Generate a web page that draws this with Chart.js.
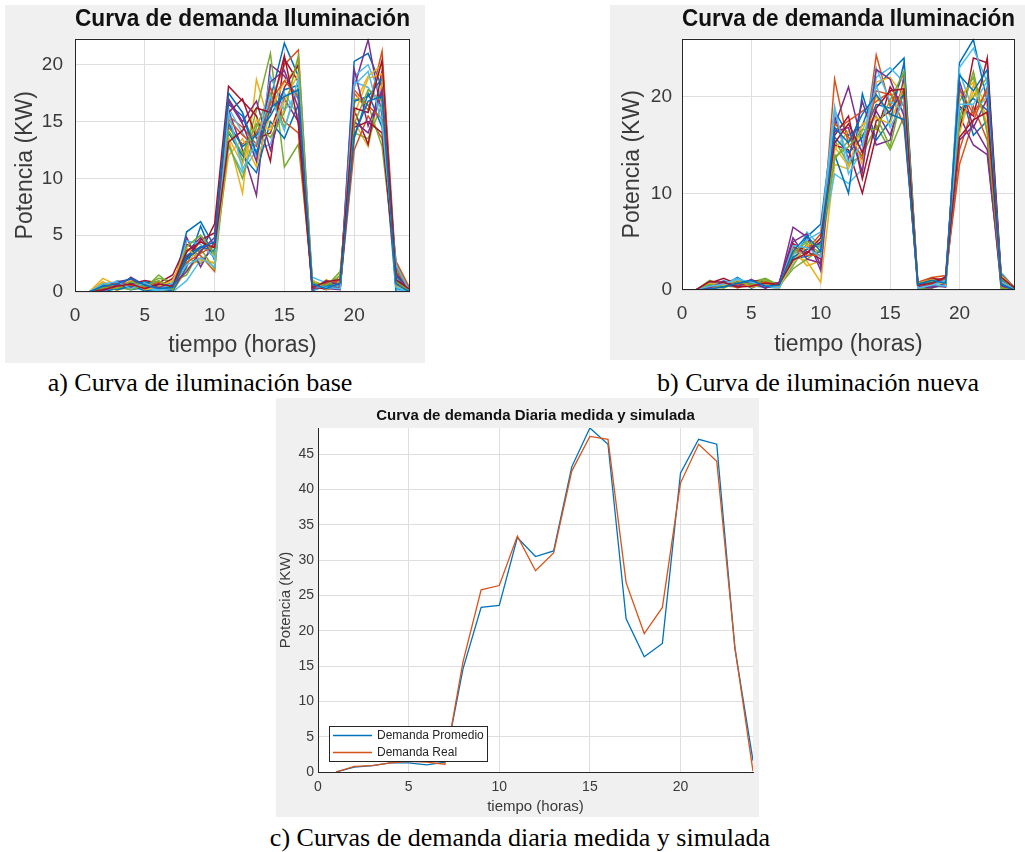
<!DOCTYPE html>
<html>
<head>
<meta charset="utf-8">
<script src="https://cdn.jsdelivr.net/npm/chart.js@4.4.0/dist/chart.umd.min.js"></script>
<style>
  body { margin: 0; background: #fff; width: 1025px; height: 852px; position: relative; overflow: hidden; }
  .panel { position: absolute; background: #f0f0f0; }
  .cap { position: absolute; font-family: 'Liberation Serif', 'Times New Roman', serif; font-size: 26px; line-height: 1; color: #000; white-space: nowrap; transform: translateX(-50%); }
</style>
</head>
<body>
<div class="panel" style="left:5px;top:5px;width:420px;height:358px"><canvas id="chartBase"></canvas></div>
<div class="panel" style="left:610px;top:5px;width:415px;height:355px"><canvas id="chartNueva"></canvas></div>
<div class="panel" style="left:276px;top:398px;width:483px;height:419px"><canvas id="chartDiaria"></canvas></div>
<div class="cap" style="left:200px;top:370px">a) Curva de iluminación base</div>
<div class="cap" style="left:818px;top:370px">b) Curva de iluminación nueva</div>
<div class="cap" style="left:520px;top:825px">c) Curvas de demanda diaria medida y simulada</div>

<script>
// hours of the day
const hours = [1,2,3,4,5,6,7,8,9,10,11,12,13,14,15,16,17,18,19,20,21,22,23,24];

// daily lighting curves, base installation (kW)
const baseCurves = [
  [0,0.3,0.5,0.2,0.4,0.3,0.2,5.3,6.2,4.0,16.5,15.5,12.0,17.0,21.9,19.0,0.5,0.4,0.6,20.3,21.0,18.0,0.3,0],
  [0,0.8,0.4,0.9,0.7,0.5,0.8,2.8,4.5,3.5,14.5,13.0,14.0,16.5,20.0,21.3,0.8,0.6,0.9,17.5,16.0,21.2,1.8,0.1],
  [0,1.2,0.6,0.3,0.8,0.2,0.0,2.0,3.0,2.5,13.5,8.7,18.7,14.5,16.0,20.5,0.2,1.1,0.5,15.0,12.8,18.5,0.5,0],
  [0,0.2,0.3,1.3,0.6,0.4,0.3,3.5,4.8,3.0,16.0,12.5,8.5,20.0,19.0,17.0,0.4,0.3,0.2,18.0,22.2,15.5,1.0,0],
  [0,0.5,0.2,0.4,0.3,1.5,0.5,3.0,2.5,4.2,15.0,11.5,16.0,21.0,11.0,13.0,1.0,0.5,1.8,14.0,13.5,16.5,2.5,0.2],
  [0,0.1,1.0,0.5,0.2,0.1,0.0,1.0,2.8,3.8,12.8,10.5,12.5,13.0,17.5,15.5,1.3,0.8,0.4,19.0,20.0,17.0,0.2,0],
  [0,0.6,0.8,0.7,1.0,0.8,1.5,4.2,3.5,6.0,18.1,16.8,15.5,11.5,20.5,18.5,0.6,0.2,0.7,16.0,13.0,19.5,1.5,0.1],
  [0,0.0,0.3,0.6,0.1,0.3,0.1,2.2,5.8,2.8,14.0,12.0,10.5,15.0,13.5,16.5,0.1,0.6,0.3,13.5,17.5,14.5,0.0,0],
  [0,0.4,0.7,0.3,0.9,0.6,0.4,3.8,3.2,1.8,15.5,14.5,13.0,18.0,15.0,14.0,0.3,0.9,0.5,12.5,15.5,13.5,2.7,0.3],
  [0,0.9,0.1,0.8,0.4,0.9,0.6,2.5,4.0,3.2,12.0,13.5,11.0,16.0,18.5,19.8,0.7,0.4,1.2,16.5,19.0,20.0,1.2,0],
  [0,0.3,0.9,1.1,0.5,0.7,0.2,4.8,2.2,4.5,17.0,15.0,16.8,12.5,17.0,15.0,0.5,0.7,0.8,15.0,14.0,17.5,0.8,0.1],
  [0,0.7,0.5,0.2,0.6,1.2,0.9,1.5,3.8,2.0,13.0,10.0,14.5,17.5,14.5,18.0,0.9,0.3,1.5,17.0,16.5,12.8,2.0,0],
  [0,0.2,0.4,0.9,0.3,0.2,0.3,4.5,4.2,3.0,16.2,14.0,12.0,19.0,16.0,17.5,0.2,0.5,0.6,18.5,18.0,16.0,0.4,0],
  [0,0.5,0.6,0.4,0.8,0.5,1.2,3.0,4.6,5.2,15.8,17.0,13.5,14.0,18.0,20.0,0.4,0.3,0.4,14.5,15.0,14.0,1.0,0.2],
  [0,0.6,0.2,0.5,0.9,0.6,0.7,3.2,4.0,3.6,14.8,12.8,13.8,15.5,17.8,18.2,0.6,0.5,0.7,16.8,17.2,18.8,1.4,0.1],
  [0,0.3,0.8,0.6,0.4,0.9,0.3,2.6,3.4,4.1,15.2,13.8,12.8,16.8,18.6,17.2,0.3,0.8,1.0,17.8,16.4,15.2,2.2,0],
  [0,0.9,0.4,1.0,0.2,0.5,1.0,3.9,2.8,2.6,13.6,11.2,15.2,14.2,16.8,19.2,1.1,0.2,0.9,15.6,18.8,19.2,0.6,0.2],
  [0,0.1,0.6,0.8,0.7,0.4,0.6,1.8,3.6,4.8,16.8,14.8,11.5,18.5,19.5,16.2,0.2,1.0,0.6,19.6,14.6,17.8,1.7,0],
  [0,0.4,0.3,0.9,0.5,1.0,0.2,4.0,5.0,3.3,14.2,12.2,14.8,13.6,15.8,20.8,0.8,0.6,1.4,14.8,17.8,16.8,0.9,0.1],
  [0,0.7,0.9,0.3,0.8,0.2,0.8,2.4,3.0,2.2,15.8,10.8,13.2,17.2,14.2,18.8,0.5,0.4,0.3,18.2,19.4,14.8,2.4,0],
  [0,0.2,0.5,0.7,0.3,0.7,0.5,3.6,4.4,3.9,13.2,14.2,16.2,15.8,20.8,14.8,0.4,0.9,1.1,16.2,15.8,20.4,1.1,0.2],
  [0,0.5,0.7,1.2,0.6,0.3,0.4,2.9,3.9,4.4,17.5,15.8,12.2,16.2,17.2,17.8,0.7,0.3,0.8,13.8,16.8,17.2,0.7,0]
];

// daily lighting curves, new installation (kW)
const nuevaCurves = [
  [0,0.3,0.5,1.3,0.4,0.3,0.2,3.0,5.5,6.8,18.5,16.0,17.0,21.0,22.5,24.0,0.5,0.3,0.4,23.5,25.9,19.5,0.5,0],
  [0,0.8,0.6,0.5,0.9,0.6,0.3,4.0,4.5,3.5,21.8,15.0,13.5,24.3,19.0,22.5,0.8,1.3,1.5,13.0,17.5,21.0,1.5,0.1],
  [0,0.2,0.9,0.7,0.3,1.0,0.4,3.5,3.0,0.8,13.0,12.5,16.5,20.0,18.0,19.5,0.3,0.6,0.8,17.0,20.5,18.0,0.3,0],
  [0,0.6,0.3,0.9,0.6,0.4,0.6,6.5,5.5,2.0,17.0,21.0,15.0,18.5,16.0,20.5,0.4,0.5,0.3,18.0,15.0,14.0,1.0,0],
  [0,1.0,0.4,0.3,0.8,1.2,0.5,2.5,4.8,3.8,15.5,13.0,14.0,17.0,14.5,18.0,0.1,0.2,0.6,19.5,22.0,16.5,0.0,0],
  [0,0.4,0.7,1.2,0.5,0.5,0.2,2.8,6.0,4.5,12.0,11.0,12.5,22.0,23.0,21.5,0.6,0.8,1.0,22.5,18.5,20.0,1.8,0.2],
  [0,0.7,1.2,0.6,1.0,0.8,0.7,4.5,3.8,5.0,15.0,14.5,10.0,16.0,21.0,19.0,0.5,1.0,1.2,16.5,24.0,23.5,1.2,0.1],
  [0,0.1,0.4,1.1,0.2,0.8,0.5,3.2,3.5,4.0,14.0,10.0,20.3,15.5,17.5,23.5,0.2,0.4,0.5,21.0,16.0,17.5,0.6,0],
  [0,0.5,0.8,0.2,0.7,0.3,0.6,3.8,4.2,5.8,16.5,17.5,18.5,19.5,20.5,17.0,0.7,0.9,1.3,14.5,19.0,15.5,1.0,0.1],
  [0,0.3,0.2,0.8,0.4,0.6,0.1,4.2,2.5,3.0,14.5,16.5,13.0,21.5,22.0,20.0,0.4,0.5,0.9,20.0,21.5,19.0,0.8,0],
  [0,0.8,0.5,0.4,1.1,0.2,0.8,5.0,5.8,2.5,18.0,13.5,19.5,15.0,15.5,22.0,0.3,0.2,0.7,15.5,17.0,14.5,0.4,0],
  [0,0.6,0.6,1.0,0.5,0.9,0.4,2.2,3.2,4.2,13.5,15.5,16.0,18.0,14.8,21.0,0.0,0.7,1.1,17.5,20.0,22.0,0.2,0],
  [0,0.2,1.0,0.5,0.8,0.4,0.3,3.6,5.2,6.0,19.0,12.0,14.5,23.0,19.5,18.5,0.8,0.6,0.4,23.0,25.0,21.5,1.4,0.1],
  [0,0.4,0.3,0.7,0.6,0.7,0.5,4.8,4.0,3.2,16.0,18.0,11.5,17.5,18.5,20.8,0.5,1.2,1.0,19.0,18.0,24.0,1.6,0.2],
  [0,0.5,0.4,0.9,0.7,0.5,0.4,3.4,4.2,4.8,15.8,14.2,15.8,19.2,18.8,20.2,0.5,0.8,0.9,18.6,19.8,18.6,1.1,0.1],
  [0,0.3,0.7,0.6,0.5,0.8,0.6,4.4,3.6,3.6,17.2,15.8,13.8,20.6,20.2,19.2,0.3,0.6,1.2,20.8,18.2,20.6,0.7,0],
  [0,0.7,0.5,1.0,0.3,0.6,0.3,2.9,4.6,5.2,14.8,12.8,17.2,17.8,17.2,21.2,0.6,1.1,0.6,16.2,21.2,17.2,1.5,0.2],
  [0,0.2,0.9,0.4,0.9,0.2,0.7,5.4,3.2,2.8,16.4,16.8,12.2,22.8,21.8,18.0,0.4,0.4,1.4,21.6,16.8,19.8,0.5,0],
  [0,0.6,0.2,0.8,0.6,1.1,0.5,3.8,5.0,4.4,13.8,14.8,16.6,16.6,19.6,22.6,0.7,0.9,0.8,17.8,22.6,16.2,1.2,0.1],
  [0,0.4,0.6,1.1,0.8,0.5,0.2,4.6,4.4,3.4,18.6,13.2,15.2,21.2,16.8,19.6,0.2,0.5,1.0,19.2,19.2,21.6,0.9,0],
  [0,0.9,0.8,0.3,0.4,0.7,0.6,3.1,3.8,5.4,15.2,17.2,14.2,18.8,20.6,20.8,0.5,0.7,1.3,15.8,17.6,18.4,1.3,0.2],
  [0,0.1,0.3,0.7,1.0,0.4,0.5,4.0,5.6,4.0,16.8,15.2,18.2,20.2,18.2,17.6,0.6,1.0,0.7,22.2,20.6,22.8,0.6,0]
];

// measured vs simulated daily demand (kW)
const demandaPromedio = [0,0.7,0.9,1.3,1.3,1.0,1.4,14.6,23.3,23.6,33.2,30.5,31.3,43.2,48.7,46.4,21.7,16.3,18.2,42.3,47.1,46.4,17.5,1.6];
const demandaReal = [0,0.8,0.9,1.3,1.5,1.4,1.1,15.6,25.8,26.4,33.4,28.5,31.0,42.6,47.5,47.1,26.8,19.6,23.3,40.9,46.4,44.0,17.7,0.1];

const matlabColors = ['#0072BD', '#D95319', '#EDB120', '#7E2F8E', '#77AC30', '#4DBEEE', '#A2142F'];

Chart.defaults.font.family = "'Liberation Sans', Arial, sans-serif";
Chart.defaults.color = '#3a3a3a';
Chart.defaults.animation = false;

const toPoints = vals => hours.map((h, i) => ({ x: h, y: vals[i] }));

// white axes background and optional dark frame around the plot
const plotBox = {
  id: 'plotBox',
  beforeDraw(chart) {
    const { ctx, chartArea: a } = chart;
    ctx.save();
    ctx.fillStyle = '#fff';
    ctx.fillRect(a.left, a.top, a.width, a.height);
    ctx.restore();
  },
  afterDraw(chart, args, opts) {
    if (!opts.frame) return;
    const { ctx, chartArea: a } = chart;
    ctx.save();
    ctx.strokeStyle = '#262626';
    ctx.lineWidth = 1;
    ctx.strokeRect(Math.round(a.left) + 0.5, Math.round(a.top) + 0.5, Math.round(a.width) - 1, Math.round(a.height) - 1);
    ctx.restore();
  }
};

// legend box drawn inside the lower-left corner of the plot
const innerLegend = {
  id: 'innerLegend',
  afterDatasetsDraw(chart, args, opts) {
    if (!opts.show) return;
    const { ctx, chartArea: a } = chart;
    const w = 158, h = 35;
    const x = Math.round(a.left) + 11, y = Math.round(a.bottom) - 11 - h;
    ctx.save();
    ctx.fillStyle = '#fff';
    ctx.fillRect(x, y, w, h);
    ctx.strokeStyle = '#262626';
    ctx.lineWidth = 1;
    ctx.strokeRect(x + 0.5, y + 0.5, w, h);
    ctx.font = "12px 'Liberation Sans', Arial, sans-serif";
    ctx.textBaseline = 'middle';
    chart.data.datasets.forEach((ds, i) => {
      const ry = y + 9.5 + i * 17;
      ctx.strokeStyle = ds.borderColor;
      ctx.lineWidth = 1.3;
      ctx.beginPath();
      ctx.moveTo(x + 4, ry);
      ctx.lineTo(x + 43, ry);
      ctx.stroke();
      ctx.fillStyle = '#262626';
      ctx.fillText(ds.label, x + 48, ry);
    });
    ctx.restore();
  }
};

function makeChart(id, datasets, cfg) {
  const keepTicks = step => scale => {
    scale.ticks = scale.ticks.filter(t => Math.abs(t.value / step - Math.round(t.value / step)) < 1e-9);
  };
  return new Chart(document.getElementById(id), {
    type: 'line',
    data: { datasets },
    plugins: [plotBox, innerLegend],
    options: {
      responsive: true,
      maintainAspectRatio: false,
      layout: { padding: { left: 0, right: cfg.padRight, top: 0, bottom: 0 } },
      elements: { point: { radius: 0 }, line: { tension: 0 } },
      plugins: {
        legend: { display: false },
        tooltip: { enabled: false },
        title: {
          display: true,
          text: cfg.title,
          fullSize: false,
          color: '#111',
          font: { size: cfg.titleSize, weight: 'bold' },
          padding: cfg.titlePad
        },
        plotBox: { frame: cfg.frame },
        innerLegend: { show: cfg.legend }
      },
      scales: {
        x: {
          type: 'linear',
          min: 0,
          max: 24,
          ticks: { stepSize: 5, autoSkip: false, maxRotation: 0, padding: cfg.xTickPad, font: { size: cfg.tickSize } },
          afterBuildTicks: keepTicks(5),
          afterFit: s => { s.height = cfg.xHeight; },
          grid: { color: '#dedede', drawTicks: false },
          border: { display: !cfg.frame, color: '#262626' },
          title: { display: true, text: 'tiempo (horas)', font: { size: cfg.labelSize }, padding: { top: 0, bottom: cfg.xTitlePad } }
        },
        y: {
          min: 0,
          max: cfg.yMax,
          ticks: { stepSize: cfg.yStep, padding: cfg.yTickPad, font: { size: cfg.tickSize } },
          afterBuildTicks: keepTicks(cfg.yStep),
          afterFit: s => { s.width = cfg.yWidth; },
          grid: { color: '#dedede', drawTicks: false },
          border: { display: !cfg.frame, color: '#262626' },
          title: { display: true, text: 'Potencia (KW)', font: { size: cfg.labelSize }, padding: { top: cfg.yTitlePad, bottom: 0 } }
        }
      }
    }
  });
}

function curveSets(curves) {
  return curves.map((vals, i) => ({
    data: toPoints(vals),
    borderColor: matlabColors[i % matlabColors.length],
    borderWidth: 1.5,
    order: curves.length - i
  }));
}

makeChart('chartBase', curveSets(baseCurves), {
  title: 'Curva de demanda Iluminación', titleSize: 23, titlePad: { top: 1, bottom: 5 },
  padRight: 15, yWidth: 70, xHeight: 71, yMax: 22.3, yStep: 5,
  tickSize: 19, labelSize: 23, xTickPad: 12, yTickPad: 12, xTitlePad: 4, yTitlePad: 7,
  frame: true, legend: false
});

makeChart('chartNueva', curveSets(nuevaCurves), {
  title: 'Curva de demanda Iluminación', titleSize: 23, titlePad: { top: 1, bottom: 5 },
  padRight: 10, yWidth: 72, xHeight: 70, yMax: 26, yStep: 10,
  tickSize: 19, labelSize: 23, xTickPad: 12, yTickPad: 10, xTitlePad: 2, yTitlePad: 9,
  frame: true, legend: false
});

makeChart('chartDiaria', [
  { label: 'Demanda Promedio', data: toPoints(demandaPromedio), borderColor: '#0072BD', borderWidth: 1.3, order: 1 },
  { label: 'Demanda Real', data: toPoints(demandaReal), borderColor: '#D95319', borderWidth: 1.3, order: 0 }
], {
  title: 'Curva de demanda Diaria medida y simulada', titleSize: 15, titlePad: { top: 9, bottom: 3 },
  padRight: 6, yWidth: 42, xHeight: 45, yMax: 48.7, yStep: 5,
  tickSize: 14, labelSize: 15, xTickPad: 7, yTickPad: 4, xTitlePad: 1, yTitlePad: 1,
  frame: false, legend: true
});
</script>
</body>
</html>
